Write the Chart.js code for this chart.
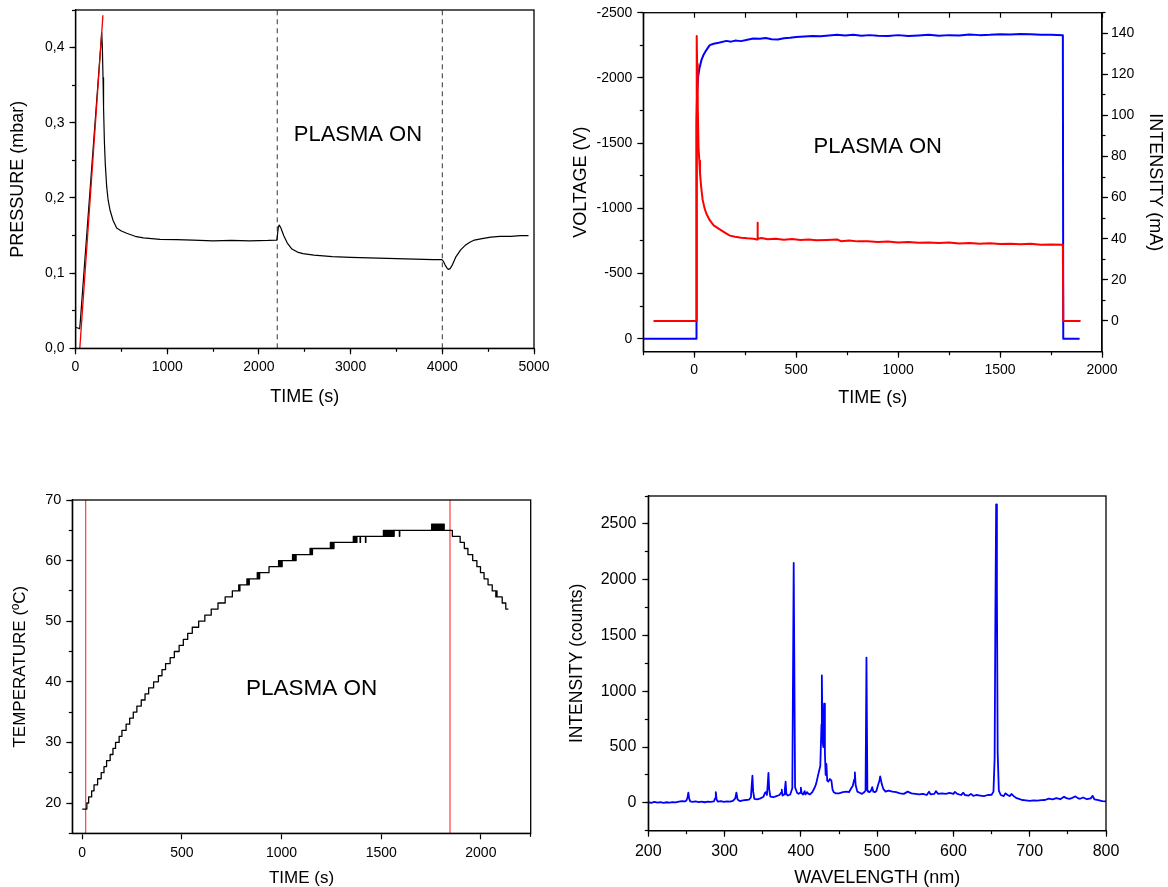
<!DOCTYPE html>
<html>
<head>
<meta charset="utf-8">
<script src="https://cdn.jsdelivr.net/npm/chart.js@4.4.1/dist/chart.umd.min.js"></script>
<style>
  html, body { margin: 0; padding: 0; background: #fff; }
  #page { position: relative; width: 1168px; height: 887px; overflow: hidden; }
  canvas { position: absolute; }
</style>
</head>
<body>
<div id="page">
  <canvas id="pressure" width="560" height="440" style="left:0;top:0"></canvas>
  <canvas id="discharge" width="608" height="440" style="left:560px;top:0"></canvas>
  <canvas id="temperature" width="560" height="447" style="left:0;top:440px"></canvas>
  <canvas id="spectrum" width="608" height="447" style="left:560px;top:440px"></canvas>
</div>
<script>
// ---- pressure vs time (top left) ----
const pressureTime = [0, 25, 45, 52, 286, 293, 300, 306, 315, 325, 340, 356, 376, 410, 449, 500, 558, 650, 740, 921,
  1100, 1281, 1500, 1700, 1900, 2100, 2195, 2200, 2212, 2222, 2240, 2270, 2310, 2360, 2420, 2480, 2600, 2800, 3000, 3300,
  3600, 3900, 3995, 4010, 4030, 4050, 4065, 4085, 4110, 4150, 4200, 4250, 4300, 4350, 4434, 4529, 4629, 4750, 4850, 4940];
const pressureValue = [0.028, 0.027, 0.026, 0.035, 0.42, 0.40, 0.36, 0.32, 0.275, 0.245, 0.215, 0.197, 0.184, 0.17, 0.16, 0.156, 0.153, 0.149, 0.147, 0.145,
  0.1445, 0.144, 0.143, 0.1435, 0.143, 0.1435, 0.144, 0.148, 0.161, 0.164, 0.16, 0.15, 0.14, 0.132, 0.128, 0.126, 0.124, 0.122, 0.121, 0.12,
  0.119, 0.118, 0.118, 0.116, 0.111, 0.107, 0.105, 0.106, 0.111, 0.122, 0.131, 0.137, 0.141, 0.144, 0.146, 0.148, 0.149, 0.149, 0.15, 0.15];
const rampTime = [47, 299];
const rampValue = [0, 0.443];
const pressureMarkers = [2200, 4000];
const pressureRangeX = [0, 5000];
const pressureRangeY = [0, 0.45];
const pressureTicksX = [0, 1000, 2000, 3000, 4000, 5000];
const pressureTicksY = [0, 0.1, 0.2, 0.3, 0.4];

// ---- voltage / current vs time (top right) ----
const voltageTime = [-250, 10, 11, 14, 19, 25, 35, 45, 60, 76, 95, 120, 158, 180, 200, 230, 260, 290, 322, 350,
  380, 410, 440, 470, 500, 540, 580, 620, 660, 700, 740, 780, 820, 860, 900, 950, 1000, 1050, 1100, 1150,
  1200, 1250, 1300, 1350, 1400, 1450, 1500, 1550, 1600, 1650, 1700, 1750, 1808, 1810, 1890];
const voltageValue = [0, 0, -1650, -1900, -2010, -2070, -2136, -2175, -2215, -2251, -2262, -2270, -2284, -2278, -2286, -2282, -2292, -2302, -2300, -2306,
  -2296, -2294, -2304, -2308, -2314, -2318, -2322, -2320, -2326, -2330, -2326, -2330, -2324, -2328, -2324, -2322, -2328, -2322, -2326, -2330,
  -2324, -2328, -2326, -2332, -2328, -2330, -2334, -2332, -2336, -2334, -2330, -2330, -2328, 0, 0];
const currentTime = [-200, 11, 12, 14, 17, 21, 25, 28, 34, 41, 50, 60, 76, 95, 125, 150, 175, 200, 230, 260,
  290, 308, 310, 312, 330, 360, 400, 440, 480, 520, 560, 600, 650, 700, 720, 760, 800, 850, 900, 950,
  1000, 1050, 1100, 1150, 1200, 1250, 1300, 1350, 1400, 1450, 1500, 1550, 1600, 1650, 1700, 1750, 1808, 1810, 1895];
const currentValue = [0, 0, 138.6, 125, 105, 84, 78, 72, 65, 59, 55, 52, 49, 46.5, 44.5, 43, 41.5, 41, 40.5, 40.2,
  40, 39.6, 47.8, 40, 40.3, 39.7, 40, 39.5, 39.8, 39.4, 39.6, 39.2, 39.4, 39.6, 38.8, 39.1, 38.7, 38.8, 38.4, 38.6,
  38.2, 38.4, 38, 38.2, 37.9, 38.1, 37.7, 37.9, 37.6, 37.8, 37.4, 37.6, 37.3, 37.5, 37.1, 37.2, 37, 0, 0];
const dischargeRangeX = [-250, 2000];
const voltageRange = [-2500, 100];
const currentRange = [-15, 150];
const dischargeTicksX = [0, 500, 1000, 1500, 2000];
const voltageTicks = [-2500, -2000, -1500, -1000, -500, 0];
const currentTicks = [0, 20, 40, 60, 80, 100, 120, 140];

// ---- temperature vs time (bottom left), change points of a stepped trace ----
const tempTime = [0, 23, 32, 47, 59, 77, 95, 109, 122, 140, 154, 167, 185, 199, 220, 238, 256, 274, 296, 315,
  333, 358, 382, 400, 418, 441, 462, 486, 507, 529, 552, 584, 615, 647, 681, 717, 753,
  785, 788, 791,
  826, 829, 832, 835, 838,
  878, 881, 884, 887, 890,
  937,
  985, 988, 991, 994, 997, 1000, 1003,
  1055, 1058, 1061, 1064, 1067, 1070, 1073,
  1143, 1146, 1149, 1152, 1155,
  1245, 1248, 1251, 1254, 1257, 1260, 1263,
  1360, 1363, 1366, 1369, 1372, 1375, 1378,
  1394, 1396, 1421, 1423,
  1511, 1514, 1517, 1520, 1523, 1526, 1529, 1532, 1535, 1538, 1541, 1544, 1547, 1550, 1553, 1556, 1559, 1562, 1565,
  1591, 1593,
  1753, 1756, 1759, 1762, 1765, 1768, 1771, 1774, 1777, 1780, 1783, 1786, 1789, 1792, 1795, 1798, 1801, 1804, 1807, 1810, 1813, 1816,
  1857, 1896, 1917, 1935, 1959, 1980, 1998, 2016, 2036, 2057,
  2075, 2078, 2081,
  2107, 2125, 2138];
const tempValue = [19, 20, 21, 22, 23, 24, 25, 26, 27, 28, 29, 30, 31, 32, 33, 34, 35, 36, 37, 38,
  39, 40, 41, 42, 43, 44, 45, 46, 47, 48, 49, 50, 51, 52, 53, 54, 55,
  56, 55, 56,
  57, 56, 57, 56, 57,
  58, 57, 58, 57, 58,
  59,
  60, 59, 60, 59, 60, 59, 60,
  61, 60, 61, 60, 61, 60, 61,
  62, 61, 62, 61, 62,
  63, 62, 63, 62, 63, 62, 63,
  64, 63, 64, 63, 64, 63, 64,
  63, 64, 63, 64,
  65, 64, 65, 64, 65, 64, 65, 64, 65, 64, 65, 64, 65, 64, 65, 64, 65, 64, 65,
  64, 65,
  66, 65, 66, 65, 66, 65, 66, 65, 66, 65, 66, 65, 66, 65, 66, 65, 66, 65, 66, 65, 66, 65,
  64, 63, 62, 61, 60, 59, 58, 57, 56, 55,
  54, 55, 54,
  53, 52, 52];
const plasmaLimits = [17, 1845];
const tempRangeX = [-50, 2250];
const tempRangeY = [15, 70];
const tempTicksX = [0, 500, 1000, 1500, 2000];
const tempTicksY = [20, 30, 40, 50, 60, 70];

// ---- emission spectrum (bottom right) ----
const specWave = [200, 204, 208, 212, 216, 220, 224, 228, 232, 236, 240, 244, 248, 250, 251.5, 252.5, 253.5, 255, 258, 262,
  266, 270, 274, 278, 282, 286, 287.5, 288.5, 289.5, 291, 295, 299, 303, 307, 311, 314, 315.5, 317, 320, 324,
  328, 332, 334.5, 335.5, 336.5, 337.5, 339, 343, 347, 351, 353, 354, 355.5, 356.5, 357.5, 358.5, 360, 364, 368, 372,
  374, 375, 376, 378, 379, 380, 381, 383, 386, 388.8, 390.6, 392.4, 395, 397, 399, 400,
  401, 403, 405, 406, 408, 410, 412, 415, 418, 420, 422, 424, 425.5, 427, 427.5, 428.5, 429.5, 430.5, 431.5, 432.5,
  433.5, 434.5, 436, 438, 440, 441.5, 443, 446, 450, 455, 460, 463, 466, 468, 470, 470.8, 471.8, 474, 477, 480,
  483, 484.8, 486, 487.2, 488, 490, 492, 493.5, 495, 497, 499, 501, 503, 504, 506, 508, 511, 515, 520, 525,
  530, 535, 540, 545, 550, 555, 560, 565, 568, 570, 575, 577, 580, 585, 590, 595, 600, 602, 605, 610,
  613, 615, 620, 623, 626, 630, 635, 640, 645, 650, 652.5, 654, 655, 656, 657, 658, 659.5, 662, 666, 668,
  671, 674, 676, 679, 682, 686, 690, 695, 700, 705, 710, 715, 720, 725, 730, 735, 740, 745, 748, 752,
  756, 760, 763, 766, 770, 775, 780, 782.5, 785, 790, 795, 800];
const specCount = [5, 0, 8, 2, 6, 0, 5, 2, 6, 3, 10, 15, 12, 20, 50, 92, 40, 12, 8, 12,
  6, 10, 5, 10, 8, 12, 40, 95, 30, 10, 15, 8, 12, 10, 18, 40, 92, 30, 15, 22,
  25, 28, 50, 150, 243, 100, 35, 30, 40, 55, 90, 95, 70, 160, 267, 120, 55, 50, 60, 70,
  90, 117, 65, 75, 120, 189, 80, 65, 75, 130, 2150, 140, 90, 80, 90, 135,
  85, 75, 105, 75, 95, 80, 75, 95, 135, 170, 230, 290, 330, 700, 1143, 550, 500, 888, 450, 250,
  348, 200, 190, 213, 200, 120, 95, 85, 85, 95, 100, 95, 130, 150, 210, 273, 160, 100, 90, 80,
  95, 110, 1302, 110, 100, 95, 110, 140, 100, 95, 105, 155, 200, 237, 170, 125, 100, 110, 100, 95,
  85, 80, 100, 85, 80, 75, 80, 70, 100, 75, 80, 105, 80, 85, 80, 90, 80, 98, 80, 70,
  90, 70, 65, 80, 62, 70, 65, 60, 70, 72, 100, 400, 1700, 2674, 1900, 450, 110, 70, 60, 85,
  70, 60, 80, 60, 45, 35, 25, 22, 18, 22, 20, 24, 25, 38, 30, 42, 32, 55, 42, 36,
  45, 58, 42, 36, 48, 32, 40, 62, 30, 25, 15, 12];
const specRangeX = [200, 800];
const specRangeY = [-250, 2750];
const specTicksX = [200, 300, 400, 500, 600, 700, 800];
const specTicksY = [0, 500, 1000, 1500, 2000, 2500];

const FONT = '"Liberation Sans", Arial, sans-serif';

// fixed axis box size so the plot areas land where the reference has them
function fixedBox(size) {
  return scale => {
    if (scale.isHorizontal()) scale.height = size;
    else scale.width = size;
    scale.paddingLeft = 0;
    scale.paddingRight = 0;
    scale.paddingTop = 0;
    scale.paddingBottom = 0;
  };
}

function onStep(step) {
  return scale => {
    scale.ticks = scale.ticks.filter(t => Math.abs(t.value / step - Math.round(t.value / step)) < 1e-6);
  };
}

// labelled axis + a zero-width companion that only draws the short minor ticks
function scalePair(id, o) {
  const base = { type: 'linear', axis: o.axis, position: o.position, min: o.range[0], max: o.range[1], reverse: !!o.reverse };
  const main = Object.assign({}, base, {
    weight: 1,
    afterFit: fixedBox(o.size),
    afterBuildTicks: s => { s.ticks = o.ticks.map(v => ({ value: v })); },
    border: { color: '#000', width: 1.3 },
    grid: { drawOnChartArea: false, tickLength: o.tickLength || 6, tickColor: '#000', tickWidth: 1.2 },
    ticks: {
      stepSize: o.ticks[1] - o.ticks[0], autoSkip: false, maxRotation: 0, padding: o.pad, color: '#000',
      font: { family: FONT, size: o.tickFont }, callback: o.format || (v => String(v))
    },
    title: { display: true, text: o.title, color: '#000', padding: 0, font: { family: FONT, size: o.titleFont, lineHeight: 1 } }
  });
  const minor = Object.assign({}, base, {
    weight: 0,
    afterFit: fixedBox(0),
    afterBuildTicks: onStep(o.minor),
    border: { display: false },
    grid: { drawOnChartArea: false, tickLength: 3.5, tickColor: '#000', tickWidth: 1.2 },
    ticks: { display: false, stepSize: o.minor }
  });
  const out = {};
  out[id] = main;
  out[id + 'Minor'] = minor;
  return out;
}

function series(xs, ys, color, width, extra) {
  return Object.assign({
    data: xs.map((x, i) => ({ x: x, y: ys[i] })),
    borderColor: color, borderWidth: width, borderJoinStyle: 'round',
    pointRadius: 0, fill: false,
    xAxisID: 'x', yAxisID: 'y'
  }, extra || {});
}

const framePlugin = {
  id: 'frame',
  afterDraw(chart) {
    const { ctx, chartArea: a } = chart;
    ctx.save();
    ctx.strokeStyle = '#000';
    ctx.lineWidth = 1.3;
    ctx.strokeRect(a.left, a.top, a.right - a.left, a.bottom - a.top);
    ctx.restore();
  }
};

const notePlugin = {
  id: 'note',
  afterDatasetsDraw(chart, args, opts) {
    if (!opts || !opts.text) return;
    const x = chart.scales[opts.xAxis || 'x'].getPixelForValue(opts.x);
    const y = chart.scales[opts.yAxis || 'y'].getPixelForValue(opts.y);
    const ctx = chart.ctx;
    ctx.save();
    ctx.fillStyle = '#000';
    ctx.font = opts.size + 'px ' + FONT;
    ctx.textAlign = 'center';
    ctx.textBaseline = 'middle';
    ctx.fillText(opts.text, x, y);
    ctx.restore();
  }
};

function makeChart(id, datasets, scales, note, pad) {
  return new Chart(document.getElementById(id), {
    type: 'line',
    data: { datasets: datasets },
    options: {
      responsive: false,
      animation: false,
      devicePixelRatio: 1,
      layout: { padding: pad },
      scales: scales,
      plugins: { legend: { display: false }, tooltip: { enabled: false }, note: note }
    },
    plugins: [framePlugin, notePlugin]
  });
}

// top left
makeChart('pressure', [
  series(rampTime, rampValue, '#ee0000', 1.3),
  series(pressureTime, pressureValue, '#000000', 1.2),
  ...pressureMarkers.map(m => series([m, m], pressureRangeY, '#333333', 1, { borderDash: [5, 4] }))
], Object.assign(
  scalePair('x', { axis: 'x', position: 'bottom', range: pressureRangeX, ticks: pressureTicksX, minor: 500,
    size: 57.7, pad: 4, tickFont: 14, title: 'TIME (s)', titleFont: 18 }),
  scalePair('y', { axis: 'y', position: 'left', range: pressureRangeY, ticks: pressureTicksY, minor: 0.05,
    size: 66.5, pad: 5, tickFont: 14, title: 'PRESSURE (mbar)', titleFont: 18,
    format: v => v.toFixed(1).replace('.', ',') })
), { text: 'PLASMA ON', x: 3080, y: 0.2835, size: 22 }, { left: 9, top: 10, right: 26, bottom: 34 });

// top right
const dischargeScales = Object.assign(
  scalePair('x', { axis: 'x', position: 'bottom', range: dischargeRangeX, ticks: dischargeTicksX, minor: 250,
    size: 55.3, pad: 4, tickFont: 14, title: 'TIME (s)', titleFont: 18 }),
  scalePair('y', { axis: 'y', position: 'left', range: voltageRange, ticks: voltageTicks, minor: 250, reverse: true,
    size: 70.9, pad: 5, tickFont: 14, title: 'VOLTAGE (V)', titleFont: 18 }),
  scalePair('y2', { axis: 'y', position: 'right', range: currentRange, ticks: currentTicks, minor: 10,
    size: 62, pad: 3, tickFont: 14, title: 'INTENSITY (mA)', titleFont: 18 })
);
dischargeScales.xTop = {
  type: 'linear', axis: 'x', position: 'top', min: dischargeRangeX[0], max: dischargeRangeX[1],
  afterFit: fixedBox(0), afterBuildTicks: onStep(250),
  border: { display: false },
  grid: { drawOnChartArea: false, tickLength: -5, tickColor: '#000', tickWidth: 1.2 },
  ticks: { display: false, stepSize: 250 }
};
makeChart('discharge', [
  series(currentTime, currentValue, '#ff0000', 2, { yAxisID: 'y2' }),
  series(voltageTime, voltageValue, '#0000ff', 2)
], dischargeScales, { text: 'PLASMA ON', x: 900, y: -1470, size: 22 }, { left: 12.4, top: 12.7, right: 4, bottom: 33 });

// bottom left
makeChart('temperature', [
  series(tempTime, tempValue, '#000000', 1.3, { stepped: 'before' }),
  ...plasmaLimits.map(m => series([m, m], tempRangeY, '#ff4040', 1.2))
], Object.assign(
  scalePair('x', { axis: 'x', position: 'bottom', range: tempRangeX, ticks: tempTicksX, minor: 250,
    size: 53.7, pad: 5, tickFont: 14, title: 'TIME (s)', titleFont: 17 }),
  scalePair('y', { axis: 'y', position: 'left', range: tempRangeY, ticks: tempTicksY, minor: 5,
    size: 60.8, pad: 5, tickFont: 14.5, title: 'TEMPERATURE (\u00baC)', titleFont: 17 })
), { text: 'PLASMA ON', x: 1151, y: 38.8, size: 22.5 }, { left: 11.5, top: 60, right: 29.3, bottom: 0 });

// bottom right
makeChart('spectrum', [
  series(specWave, specCount, '#0000ff', 1.8)
], Object.assign(
  scalePair('x', { axis: 'x', position: 'bottom', range: specRangeX, ticks: specTicksX, minor: 50,
    size: 56.3, pad: 5, tickFont: 16, title: 'WAVELENGTH (nm)', titleFont: 18 }),
  scalePair('y', { axis: 'y', position: 'left', range: specRangeY, ticks: specTicksY, minor: 250,
    size: 79.55, pad: 6, tickFont: 16, title: 'INTENSITY (counts)', titleFont: 17.5 })
), null, { left: 8.75, top: 56, right: 62, bottom: 0 });
</script>
</body>
</html>
